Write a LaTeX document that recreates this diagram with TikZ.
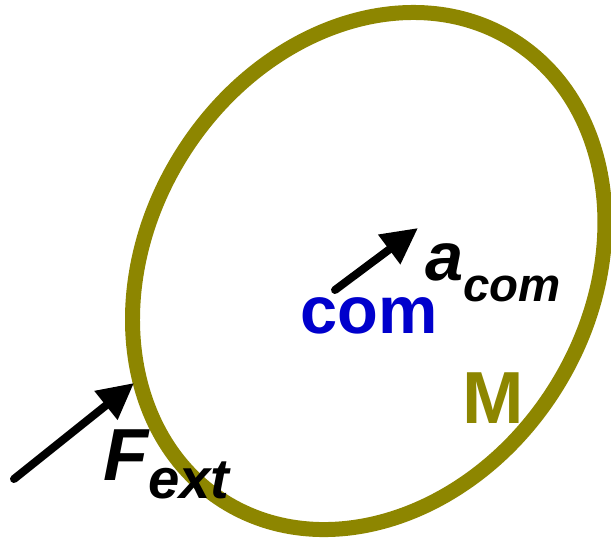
\documentclass[tikz,border=0pt]{standalone}
\usepackage{fontspec}
\setmainfont{Liberation Sans}
\usepackage{xcolor}
\usepackage{tikz}
\usetikzlibrary{arrows.meta, positioning, calc}

\newcommand{\lowered}[3]{\raisebox{-#1}{\fontsize{#2}{#2}\selectfont #3}}

\begin{document}
\begin{tikzpicture}[
  x=0.02cm, y=-0.02cm,
  ring/.style={draw=olive, line width=0.30cm},
  arrow/.style={-{Triangle[length=0.72cm, width=0.70cm]}, line width=0.16cm, line cap=round},
  bluelabel/.style={anchor=base west, inner sep=0pt, text=blue!80!black, font=\fontsize{38}{38}\selectfont\bfseries},
  blacklabel/.style={anchor=base west, inner sep=0pt, text=black, font=\fontsize{39}{39}\selectfont\bfseries\itshape},
  masslabel/.style={anchor=base west, inner sep=0pt, text=olive, font=\fontsize{42}{42}\selectfont\bfseries}
]
  \useasboundingbox (0,0) rectangle (611,540);

  % the body
  \coordinate (ctr) at (368.75,271);
  \draw[ring, rotate around={57.8:(ctr)}] (ctr) ellipse [x radius=5.444cm, y radius=4.408cm];

  % labels
  \node[bluelabel] (com) at (300,333) {com};
  \node[blacklabel] (acc) at (425,280) {a\lowered{0.44cm}{27}{com}};
  \node[masslabel] (mass) at (462,423) {M};
  \node[blacklabel, font=\fontsize{42}{42}\selectfont\bfseries\itshape] (force) at (103,480) {F\lowered{0.36cm}{32}{ext}};

  % arrows
  \coordinate (atail) at (335,290);
  \coordinate (atip) at (418,228);
  \coordinate (ftail) at (14,479);
  \coordinate (ftip) at (134,383);
  \draw[arrow] (atail) -- (atip);
  \draw[arrow] (ftail) -- (ftip);
\end{tikzpicture}
\end{document}
